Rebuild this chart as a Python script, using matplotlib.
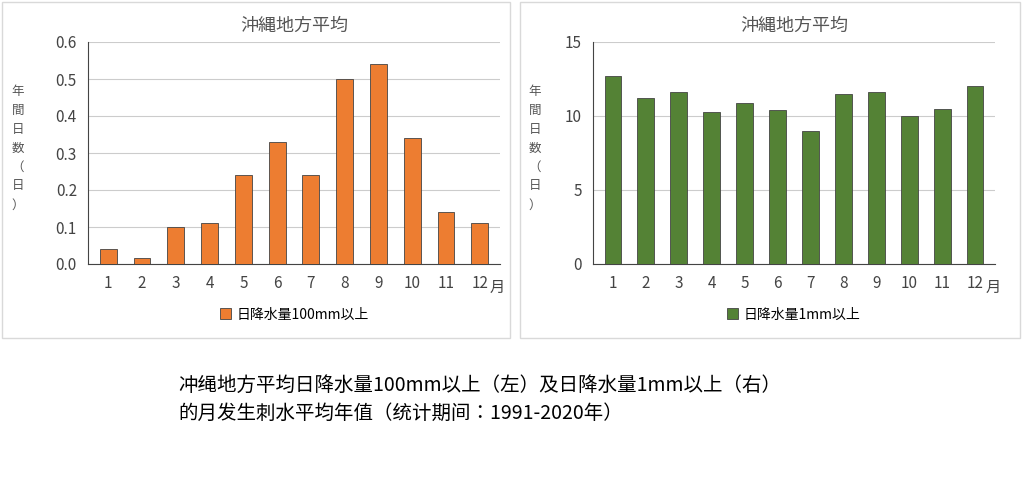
import matplotlib.pyplot as plt
from matplotlib.patches import Rectangle

plt.rcParams['font.family'] = ['Noto Sans CJK JP', 'DejaVu Sans']

months = ['1', '2', '3', '4', '5', '6', '7', '8', '9', '10', '11', '12']
heavy_rain_days = [0.04, 0.015, 0.10, 0.11, 0.24, 0.33, 0.24, 0.50, 0.54, 0.34, 0.14, 0.11]
rain_days = [12.7, 11.2, 11.6, 10.3, 10.9, 10.4, 9.0, 11.5, 11.6, 10.0, 10.5, 12.0]

W, H = 1024, 488
fig = plt.figure(figsize=(W / 100, H / 100), dpi=100)

# panel frames
for x0, x1 in [(2, 510), (520, 1020)]:
    fig.patches.append(Rectangle((x0 / W, 1 - 338 / H), (x1 - x0) / W, 336 / H,
                                 transform=fig.transFigure, fill=False,
                                 edgecolor='#d9d9d9', lw=1))


def panel(left, right, values, color, ylim, yticks, fmt, legend):
    ax = fig.add_axes([left / W, 1 - 264 / H, (right - left) / W, 222 / H])
    x = range(len(months))
    ax.bar(x, values, width=0.5, color=color, edgecolor='#444444', lw=0.6,
           label=legend, zorder=3)
    ax.set_xlim(-0.6, 11.6)
    ax.set_ylim(*ylim)
    ax.set_yticks(yticks)
    ax.set_yticklabels([fmt.format(v) for v in yticks], fontsize=11, color='#444444')
    ax.set_xticks(list(x))
    ax.set_xticklabels(months, fontsize=11, color='#444444')
    ax.text(11.3, -ylim[1] * 0.105, '月', fontsize=11, color='#444444', va='center')
    ax.tick_params(length=0, pad=8)
    ax.grid(axis='y', color='#cccccc', lw=0.8, zorder=0)
    for s in ['top', 'right']:
        ax.spines[s].set_visible(False)
    ax.spines['left'].set_color('#444444')
    ax.spines['bottom'].set_color('#444444')
    ax.set_title('沖縄地方平均', fontsize=13, color='#555555', pad=8)
    ax.legend(loc='upper center', bbox_to_anchor=(0.5, -0.14), frameon=False,
              fontsize=10, handlelength=0.8, handleheight=0.8, handletextpad=0.4)
    return ax


panel(88, 500, heavy_rain_days, '#ED7D31', (0, 0.6),
      [0.0, 0.1, 0.2, 0.3, 0.4, 0.5, 0.6], '{:.1f}', '日降水量100mm以上')
panel(593, 995, rain_days, '#548235', (0, 15),
      [0, 5, 10, 15], '{:d}', '日降水量1mm以上')

for xp in [18, 535]:
    fig.text(xp / W, 1 - 148 / H, '年\n間\n日\n数\n（\n日\n）', fontsize=9,
             color='#555555', ha='center', va='center', linespacing=1.6)

fig.text(178 / W, 1 - 385 / H, '冲绳地方平均日降水量100mm以上（左）及日降水量1mm以上（右）',
         fontsize=14, va='center')
fig.text(178 / W, 1 - 413 / H, '的月发生刺水平均年值（统计期间：1991-2020年）',
         fontsize=14, va='center')

fig.savefig('out.png', dpi=100)
